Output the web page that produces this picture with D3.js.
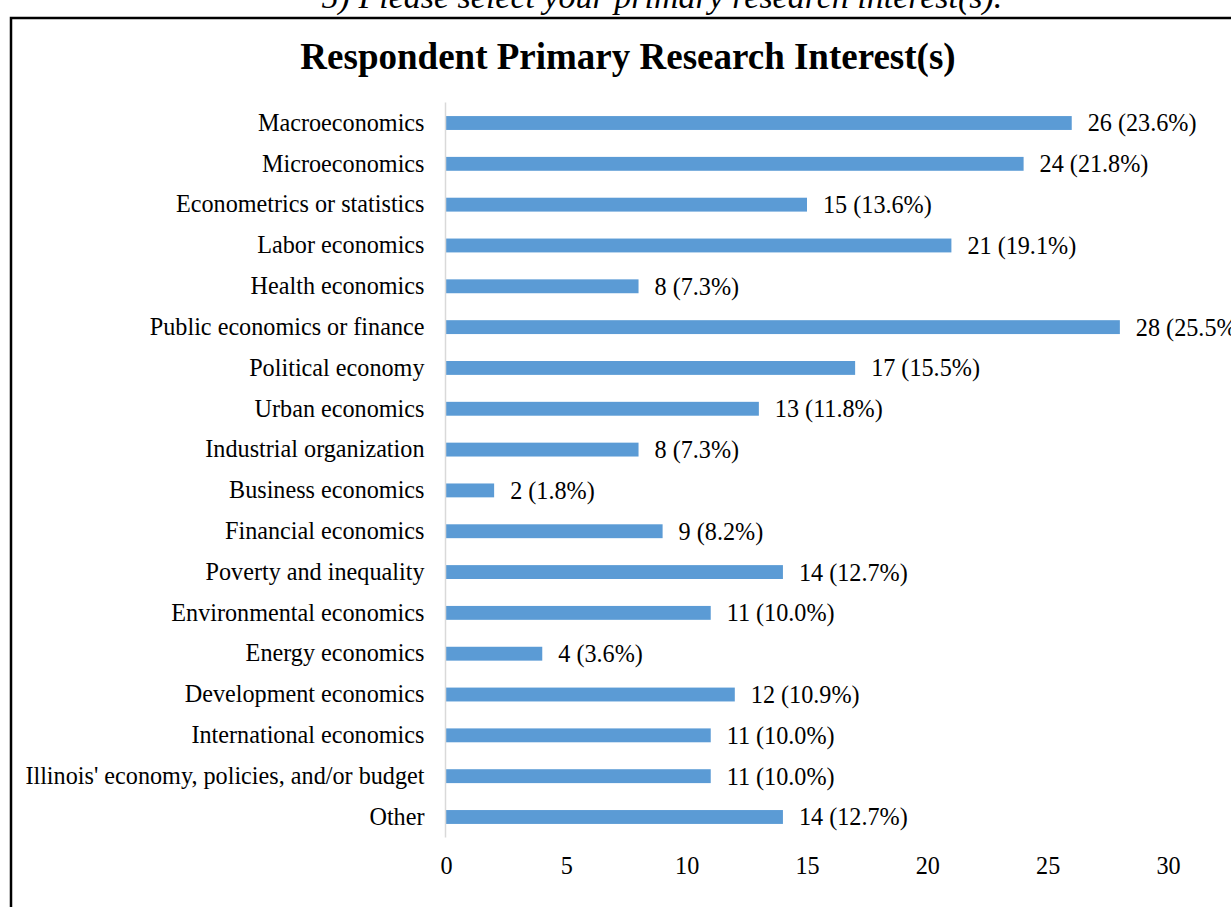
<!DOCTYPE html>
<html>
<head>
<meta charset="utf-8">
<script src="https://cdn.jsdelivr.net/npm/d3@7"></script>
<style>
  html, body { margin: 0; padding: 0; background: #fff; }
  svg { display: block; }
  text { font-family: "Liberation Serif", "Times New Roman", serif; fill: #000; }
</style>
</head>
<body>
<svg id="chart" width="1231" height="907"></svg>
<script>
// Survey question 5: primary research interests of respondents
const categories = [
  "Macroeconomics",
  "Microeconomics",
  "Econometrics or statistics",
  "Labor economics",
  "Health economics",
  "Public economics or finance",
  "Political economy",
  "Urban economics",
  "Industrial organization",
  "Business economics",
  "Financial economics",
  "Poverty and inequality",
  "Environmental economics",
  "Energy economics",
  "Development economics",
  "International economics",
  "Illinois' economy, policies, and/or budget",
  "Other"
];
const counts = [26, 24, 15, 21, 8, 28, 17, 13, 8, 2, 9, 14, 11, 4, 12, 11, 11, 14];
const percents = ["23.6%", "21.8%", "13.6%", "19.1%", "7.3%", "25.5%", "15.5%", "11.8%", "7.3%", "1.8%", "8.2%", "12.7%", "10.0%", "3.6%", "10.9%", "10.0%", "10.0%", "12.7%"];
const xTicks = [0, 5, 10, 15, 20, 25, 30];

const svg = d3.select("#chart");
const FONT = "'Liberation Serif', 'Times New Roman', serif";
const LABEL_SIZE = "24.2px";

// Heading of the survey question, running above the frame
svg.append("text")
  .attr("x", 662).attr("y", 8)
  .attr("text-anchor", "middle")
  .style("font-size", "34px")
  .style("font-style", "italic")
  .text("5)  Please select your primary research interest(s).");

// Chart frame
svg.append("rect")
  .attr("x", 11).attr("y", 18)
  .attr("width", 1240).attr("height", 920)
  .attr("fill", "none")
  .attr("stroke", "#000")
  .attr("stroke-width", 2.5);

// Title
svg.append("text")
  .attr("x", 628).attr("y", 69)
  .attr("text-anchor", "middle")
  .style("font-size", "37px")
  .style("font-weight", "bold")
  .text("Respondent Primary Research Interest(s)");

const x = d3.scaleLinear().domain([0, 30]).range([446, 1168]);
const y = d3.scaleBand().domain(categories).range([102.6, 837.4]).paddingInner(0.66).paddingOuter(0.33);

// Bars
svg.append("g").selectAll("rect")
  .data(categories)
  .join("rect")
  .attr("x", x(0))
  .attr("y", d => y(d))
  .attr("width", (d, i) => x(counts[i]) - x(0))
  .attr("height", y.bandwidth())
  .attr("fill", "#5B9BD5");

// Value labels
svg.append("g").selectAll("text")
  .data(categories)
  .join("text")
  .attr("x", (d, i) => x(counts[i]) + 16)
  .attr("y", d => y(d) + y.bandwidth() / 2)
  .attr("dy", "0.35em")
  .style("font-size", LABEL_SIZE)
  .text((d, i) => `${counts[i]} (${percents[i]})`);

// Category axis
const yAxis = svg.append("g")
  .attr("transform", `translate(${x(0) - 0.5},0)`)
  .call(d3.axisLeft(y).tickSize(0).tickPadding(21));
yAxis.select(".domain").attr("stroke", "#d9d9d9").attr("stroke-width", 1.5)
  .attr("d", "M0,102.6V837.4");
yAxis.selectAll("text").style("font-size", LABEL_SIZE).style("font-family", FONT);

// Value axis (labels only)
const xAxis = svg.append("g")
  .attr("transform", "translate(0,857)")
  .call(d3.axisBottom(x).tickValues(xTicks).tickSize(0).tickPadding(0));
xAxis.select(".domain").remove();
xAxis.selectAll("text").style("font-size", LABEL_SIZE).style("font-family", FONT);
</script>
</body>
</html>
